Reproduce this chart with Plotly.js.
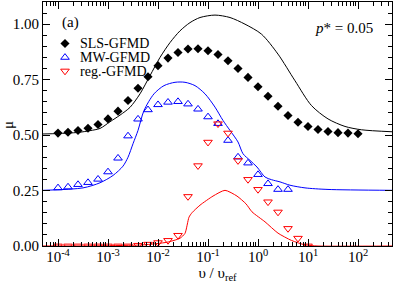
<!DOCTYPE html>
<html>
<head>
<meta charset="utf-8">
<script src="https://cdn.plot.ly/plotly-3.0.1.min.js"></script>
<style>html,body{margin:0;padding:0;background:#fff;}#chart{width:395px;height:286px;}</style>
</head>
<body>
<div id="chart"></div>
<script>
// ---- data (x given as log10 exponents of v/v_ref) ----
const slsExp = [-4,-3.8,-3.6,-3.4,-3.2,-3,-2.8,-2.6,-2.4,-2.2,-2,-1.8,-1.6,-1.4,-1.2,-1,-0.8,-0.6,-0.4,-0.2,0,0.2,0.4,0.6,0.8,1,1.2,1.4,1.6,1.8,2];
const slsMu  = [0.509,0.513,0.521,0.531,0.548,0.573,0.608,0.656,0.711,0.763,0.813,0.847,0.872,0.888,0.889,0.880,0.863,0.835,0.800,0.760,0.718,0.675,0.630,0.588,0.558,0.539,0.525,0.516,0.511,0.509,0.506];

const mwExp = [-4,-3.8,-3.6,-3.4,-3.2,-3,-2.8,-2.6,-2.4,-2.2,-2,-1.8,-1.6,-1.4,-1.2,-1,-0.8,-0.6,-0.4,-0.2,0,0.2,0.4,0.6];
const mwMu  = [0.262,0.266,0.277,0.286,0.301,0.334,0.396,0.496,0.572,0.614,0.637,0.648,0.651,0.640,0.617,0.582,0.552,0.476,0.401,0.374,0.322,0.281,0.255,0.255];

const regExp = [-4,-3.8,-3.6,-3.4,-3.2,-3,-2.8,-2.6,-2.4,-2.2,-2,-1.8,-1.6,-1.4,-1.2,-1,-0.8,-0.6,-0.4,-0.2,0,0.2,0.4,0.6,0.8,1];
const regMu  = [0,0,0,0,0,0,0,0,0.003,0.008,0.015,0.025,0.048,0.223,0.362,0.468,0.551,0.509,0.385,0.300,0.255,0.199,0.153,0.079,0.035,0];

const slsLineExp = [-4.3,-4,-3.6,-3.36,-3.16,-2.96,-2.76,-2.56,-2.36,-2.16,-1.96,-1.76,-1.56,-1.36,-1.16,-0.86,-0.56,-0.26,0.07,0.4,0.74,1.07,1.4,1.74,2.07,2.68];
const slsLineMu  = [0.505,0.507,0.512,0.52,0.53,0.56,0.59,0.625,0.686,0.768,0.850,0.917,0.970,1.007,1.030,1.041,1.030,1.0,0.955,0.865,0.745,0.633,0.573,0.539,0.524,0.515];

const mwLineExp = [-4.3,-3.5,-3.16,-2.9,-2.7,-2.6,-2.5,-2.4,-2.28,-2.08,-1.88,-1.66,-1.46,-1.26,-1.06,-0.86,-0.7,-0.56,-0.4,-0.3,-0.16,-0.02,0.14,0.27,0.44,0.64,0.94,1.4,2.68];
const mwLineMu  = [0.251,0.262,0.285,0.318,0.36,0.40,0.461,0.521,0.611,0.686,0.723,0.738,0.738,0.723,0.686,0.626,0.566,0.521,0.469,0.416,0.386,0.356,0.311,0.299,0.289,0.274,0.262,0.255,0.251];

const regLineExp = [-4.3,-3.16,-2.3,-1.82,-1.56,-1.46,-1.38,-1.32,-1.16,-0.9,-0.66,-0.42,-0.24,-0.12,0.14,0.4,0.67,0.94,1.2,2.68];
const regLineMu  = [0,0.001,0.005,0.017,0.035,0.057,0.13,0.15,0.184,0.225,0.251,0.225,0.19,0.154,0.109,0.058,0.025,0.005,0,0];

const seriesNames = ['SLS-GFMD','MW-GFMD','reg.-GFMD'];
const xTickVals = [1e-4,1e-3,1e-2,1e-1,1e0,1e1,1e2];
const xTickText = ['10<sup>-4</sup>','10<sup>-3</sup>','10<sup>-2</sup>','10<sup>-1</sup>','10<sup>0</sup>','10<sup>1</sup>','10<sup>2</sup>'];
const yTickVals = [0,0.25,0.5,0.75,1.0];
const yTickText = ['0.00','0.25','0.50','0.75','1.00'];

// ---- build ----
const toX = a => a.map(e => Math.pow(10, e));
const FONT = 'Liberation Serif';
const BLUE = '#0000ff', RED = '#ff0000', BLACK = '#000000';

const traces = [
  {x: toX(slsLineExp), y: slsLineMu, mode:'lines', line:{color:BLACK, width:1, shape:'spline', smoothing:0.8}, hoverinfo:'skip'},
  {x: toX(mwLineExp), y: mwLineMu, mode:'lines', line:{color:BLUE, width:1, shape:'spline', smoothing:0.8}, hoverinfo:'skip'},
  {x: toX(regLineExp), y: regLineMu, mode:'lines', line:{color:RED, width:1, shape:'spline', smoothing:0.6}, hoverinfo:'skip'},
  {x: toX(slsExp), y: slsMu, mode:'markers', name: seriesNames[0], marker:{symbol:'diamond', size:7, color:BLACK}},
  {x: toX(mwExp), y: mwMu, mode:'markers', name: seriesNames[1], marker:{symbol:'triangle-up-open', size:7.5, color:BLUE, line:{width:1, color:BLUE}}},
  {x: toX(regExp), y: regMu, mode:'markers', name: seriesNames[2], marker:{symbol:'triangle-down-open', size:7.5, color:RED, line:{width:1, color:RED}}}
];

// legend keys, drawn on an invisible overlay (plot-area fractions)
const legKeyX = 0.063, legTextX = 0.100;
const legRowsY = [0.830, 0.773, 0.717];
const legSymbols = [
  {symbol:'diamond', size:7, color:BLACK, line:{width:0}},
  {symbol:'triangle-up-open', size:7.5, color:BLUE, line:{width:1, color:BLUE}},
  {symbol:'triangle-down-open', size:7.5, color:RED, line:{width:1, color:RED}}
];
legSymbols.forEach((m, i) => {
  traces.push({x:[legKeyX], y:[legRowsY[i]], xaxis:'x2', yaxis:'y2', mode:'markers', marker:m, hoverinfo:'skip'});
});

const annotations = seriesNames.map((n, i) => ({
  text: n, x: legTextX, y: legRowsY[i], xref:'paper', yref:'paper', xanchor:'left', yanchor:'middle',
  showarrow:false, font:{family:FONT, size:14, color:BLACK}
}));
annotations.push({text:'(a)', x:0.049, y:0.914, xref:'paper', yref:'paper', xanchor:'left', yanchor:'middle', showarrow:false, font:{family:FONT, size:15, color:BLACK}});
annotations.push({text:'<i>p</i>* = 0.05', x:0.951, y:0.893, xref:'paper', yref:'paper', xanchor:'right', yanchor:'middle', showarrow:false, font:{family:FONT, size:15, color:BLACK}});
annotations.push({text:'μ', x:-0.100, y:0.496, xref:'paper', yref:'paper', xanchor:'center', yanchor:'middle', textangle:-90, showarrow:false, font:{family:FONT, size:15, color:BLACK}});

const axisCommon = {
  showline:true, linecolor:BLACK, linewidth:1, mirror:'ticks', showgrid:false, zeroline:false,
  ticks:'inside', ticklen:7, tickwidth:1, tickcolor:BLACK,
  tickfont:{family:FONT, size:15, color:BLACK}
};

const layout = {
  width:395, height:286,
  margin:{l:43, r:3, t:2, b:40, pad:0},
  paper_bgcolor:'#ffffff', plot_bgcolor:'rgba(0,0,0,0)',
  showlegend:false,
  font:{family:FONT, size:15, color:BLACK},
  xaxis: Object.assign({}, axisCommon, {
    type:'log', range:[-4.3, 2.68], tickmode:'array', tickvals:xTickVals, ticktext:xTickText,
    ticklabelstandoff:-3,
    minor:{ticks:'inside', ticklen:4, tickwidth:1, tickcolor:BLACK, dtick:'D1', showgrid:false},
    title:{text:'υ / υ<sub>ref</sub>', font:{family:FONT, size:15, color:BLACK}, standoff:3}
  }),
  yaxis: Object.assign({}, axisCommon, {
    range:[0, 1.1], tickmode:'array', tickvals:yTickVals, ticktext:yTickText,
    minor:{ticks:'inside', ticklen:4, tickwidth:1, tickcolor:BLACK, dtick:0.05, tick0:0, showgrid:false}
  }),
  xaxis2:{overlaying:'x', range:[0,1], visible:false, fixedrange:true},
  yaxis2:{overlaying:'y', range:[0,1], visible:false, fixedrange:true},
  annotations: annotations
};

Plotly.newPlot('chart', traces, layout, {displayModeBar:false, staticPlot:true});
</script>
</body>
</html>
